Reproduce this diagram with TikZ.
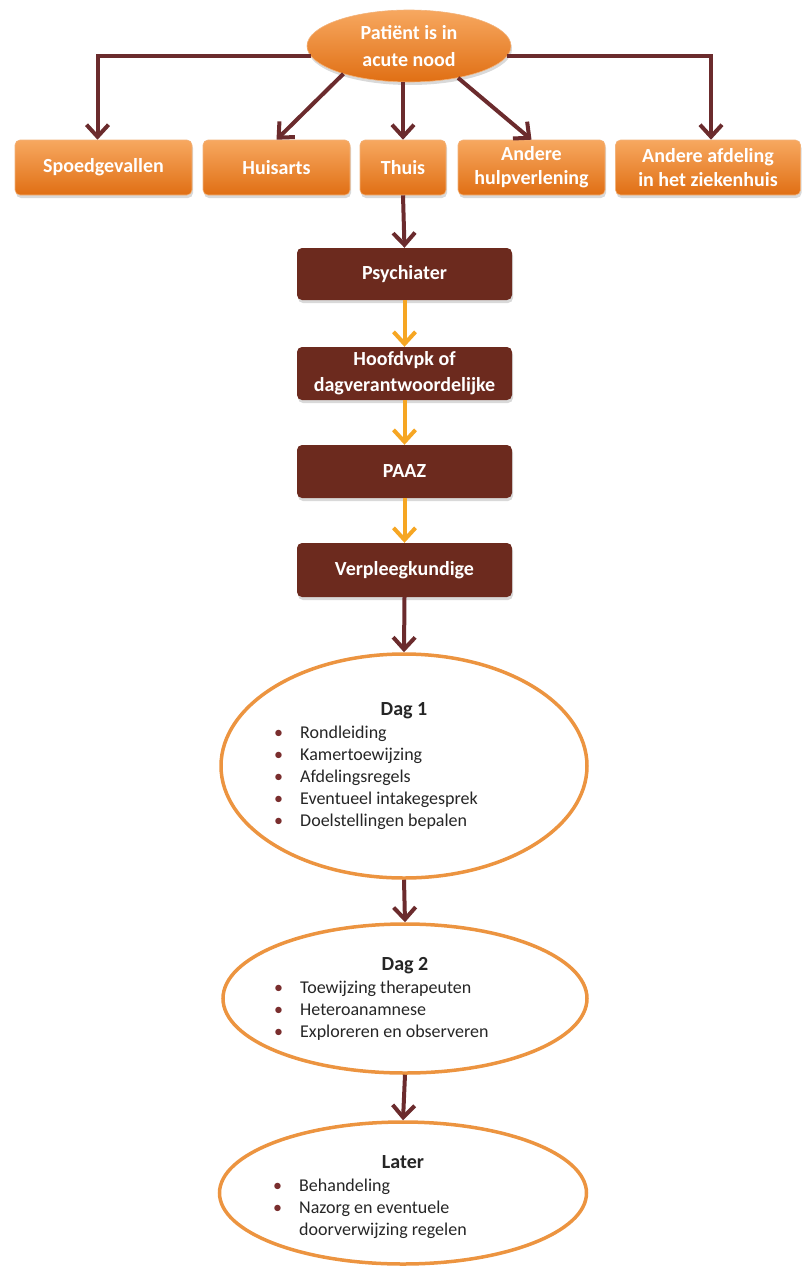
\documentclass[tikz,border=0pt]{standalone}
\usepackage{fontspec}
\setmainfont{Carlito}
\usetikzlibrary{positioning,arrows.meta,shapes.geometric,shadows}

\definecolor{orTop}{HTML}{F7A860}
\definecolor{orBot}{HTML}{E06F14}
\definecolor{orEdge}{HTML}{F2B27A}
\definecolor{brownc}{HTML}{6C2A1E}
\definecolor{arrc}{HTML}{6B2B2D}
\definecolor{arro}{HTML}{F6A623}
\definecolor{ellc}{HTML}{EC9440}
\definecolor{txtc}{HTML}{262626}
\definecolor{bulc}{HTML}{7A2E2E}

\newcommand{\itm}[1]{\makebox[26pt][l]{\textcolor{bulc}{\textbullet}}#1}

\tikzset{
  orangebox/.style={rectangle, rounded corners=5pt, top color=orTop, bottom color=orBot,
    draw=orEdge, line width=0.6pt, text=white, align=center, inner sep=2pt,
    font=\bfseries\fontsize{20}{24}\selectfont, minimum height=55pt,
    drop shadow={shadow xshift=1pt, shadow yshift=-3pt, opacity=0.3}},
  brownbox/.style={rectangle, rounded corners=5pt, fill=brownc, text=white, align=center,
    font=\bfseries\fontsize{20}{26}\selectfont, minimum width=215pt, minimum height=53pt,
    inner sep=2pt, drop shadow={shadow xshift=1pt, shadow yshift=-3pt, opacity=0.3}},
  dagellipse/.style={ellipse, draw=ellc, line width=3.5pt, fill=white, inner sep=0pt},
  darrow/.style={draw=arrc, line width=4pt, -{Straight Barb[length=12pt,width=22pt]}},
  oarrow/.style={darrow, draw=arro},
  daytitle/.style={anchor=base, inner sep=0pt, text=txtc, font=\bfseries\fontsize{20}{24}\selectfont},
  daytxt/.style={anchor=base west, inner sep=0pt, text=txtc, font=\fontsize{18}{22}\selectfont},
}

\begin{document}
\begin{tikzpicture}[x=1pt,y=-1pt]
  \useasboundingbox (0,0) rectangle (803,1267);

  % top of the chart
  \node[orangebox, ellipse, minimum width=204pt, minimum height=72pt, inner sep=0pt,
    font=\bfseries\fontsize{20}{27}\selectfont] (nood) at (409,46) {Patiënt is in\\acute nood};

  \node[orangebox, minimum width=177pt] (spoed) at (103.5,167.5) {Spoedgevallen};
  \node[orangebox, minimum width=147pt] (huis) at (276.5,167.5) {Huisarts};
  \node[orangebox, minimum width=86pt] (thuis) at (403,167.5) {Thuis};
  \node[orangebox, minimum width=147pt] (hulp) at (531.5,167.5) {Andere\\hulpverlening};
  \node[orangebox, minimum width=185pt] (afd) at (708,167.5) {Andere afdeling\\in het ziekenhuis};

  \draw[darrow] (nood.186) -| ([xshift=-6pt]spoed.north);
  \draw[darrow] (nood.203) -- (huis.north);
  \draw[darrow] (thuis.north |- nood.south) -- (thuis.north);
  \draw[darrow] (nood.327) -- (hulp.north);
  \draw[darrow] (nood.354) -| ([xshift=3pt]afd.north);

  % opname
  \node[brownbox, minimum height=52pt] (psych) at (404.5,274) {Psychiater};
  \node[brownbox] (hoofd) at (404.5,373.5) {Hoofdvpk of\\dagverantwoordelijke};
  \node[brownbox] (paaz) at (404.5,471.5) {PAAZ};
  \node[brownbox, minimum height=54pt] (verpl) at (404.5,570) {Verpleegkundige};

  \draw[darrow] (thuis.south) -- (psych.north);
  \draw[oarrow] (psych.south) -- (hoofd.north);
  \draw[oarrow] (hoofd.south) -- (paaz.north);
  \draw[oarrow] (paaz.south) -- (verpl.north);

  % dagen
  \node[dagellipse, minimum width=366pt, minimum height=224pt] (dag1) at (404,766) {};
  \node[dagellipse, minimum width=364pt, minimum height=149pt] (dag2) at (405,998.5) {};
  \node[dagellipse, minimum width=367pt, minimum height=142pt] (later) at (403,1193) {};

  \draw[darrow] (verpl.south) -- (dag1.north);
  \draw[darrow] (dag1.south) -- (dag2.north);
  \draw[darrow] (dag2.south) -- (later.north);

  \node[daytitle] (dag1t) at (404,715) {Dag 1};
  \foreach \t [count=\i] in {Rondleiding,Kamertoewijzing,Afdelingsregels,Eventueel intakegesprek,Doelstellingen bepalen}
    \node[daytxt] (dag1i\i) at (274,716+22*\i) {\itm{\t}};

  \node[daytitle] (dag2t) at (405,970) {Dag 2};
  \foreach \t [count=\i] in {Toewijzing therapeuten,Heteroanamnese,Exploreren en observeren}
    \node[daytxt] (dag2i\i) at (274,971+22*\i) {\itm{\t}};

  \node[daytitle] (latert) at (403,1168) {Later};
  \node[daytxt] (lateri1) at (273,1191) {\itm{Behandeling}};
  \node[daytxt] (lateri2) at (273,1213) {\itm{Nazorg en eventuele}};
  \node[daytxt] (lateri3) at (273,1235) {\hspace*{26pt}doorverwijzing regelen};
\end{tikzpicture}
\end{document}
